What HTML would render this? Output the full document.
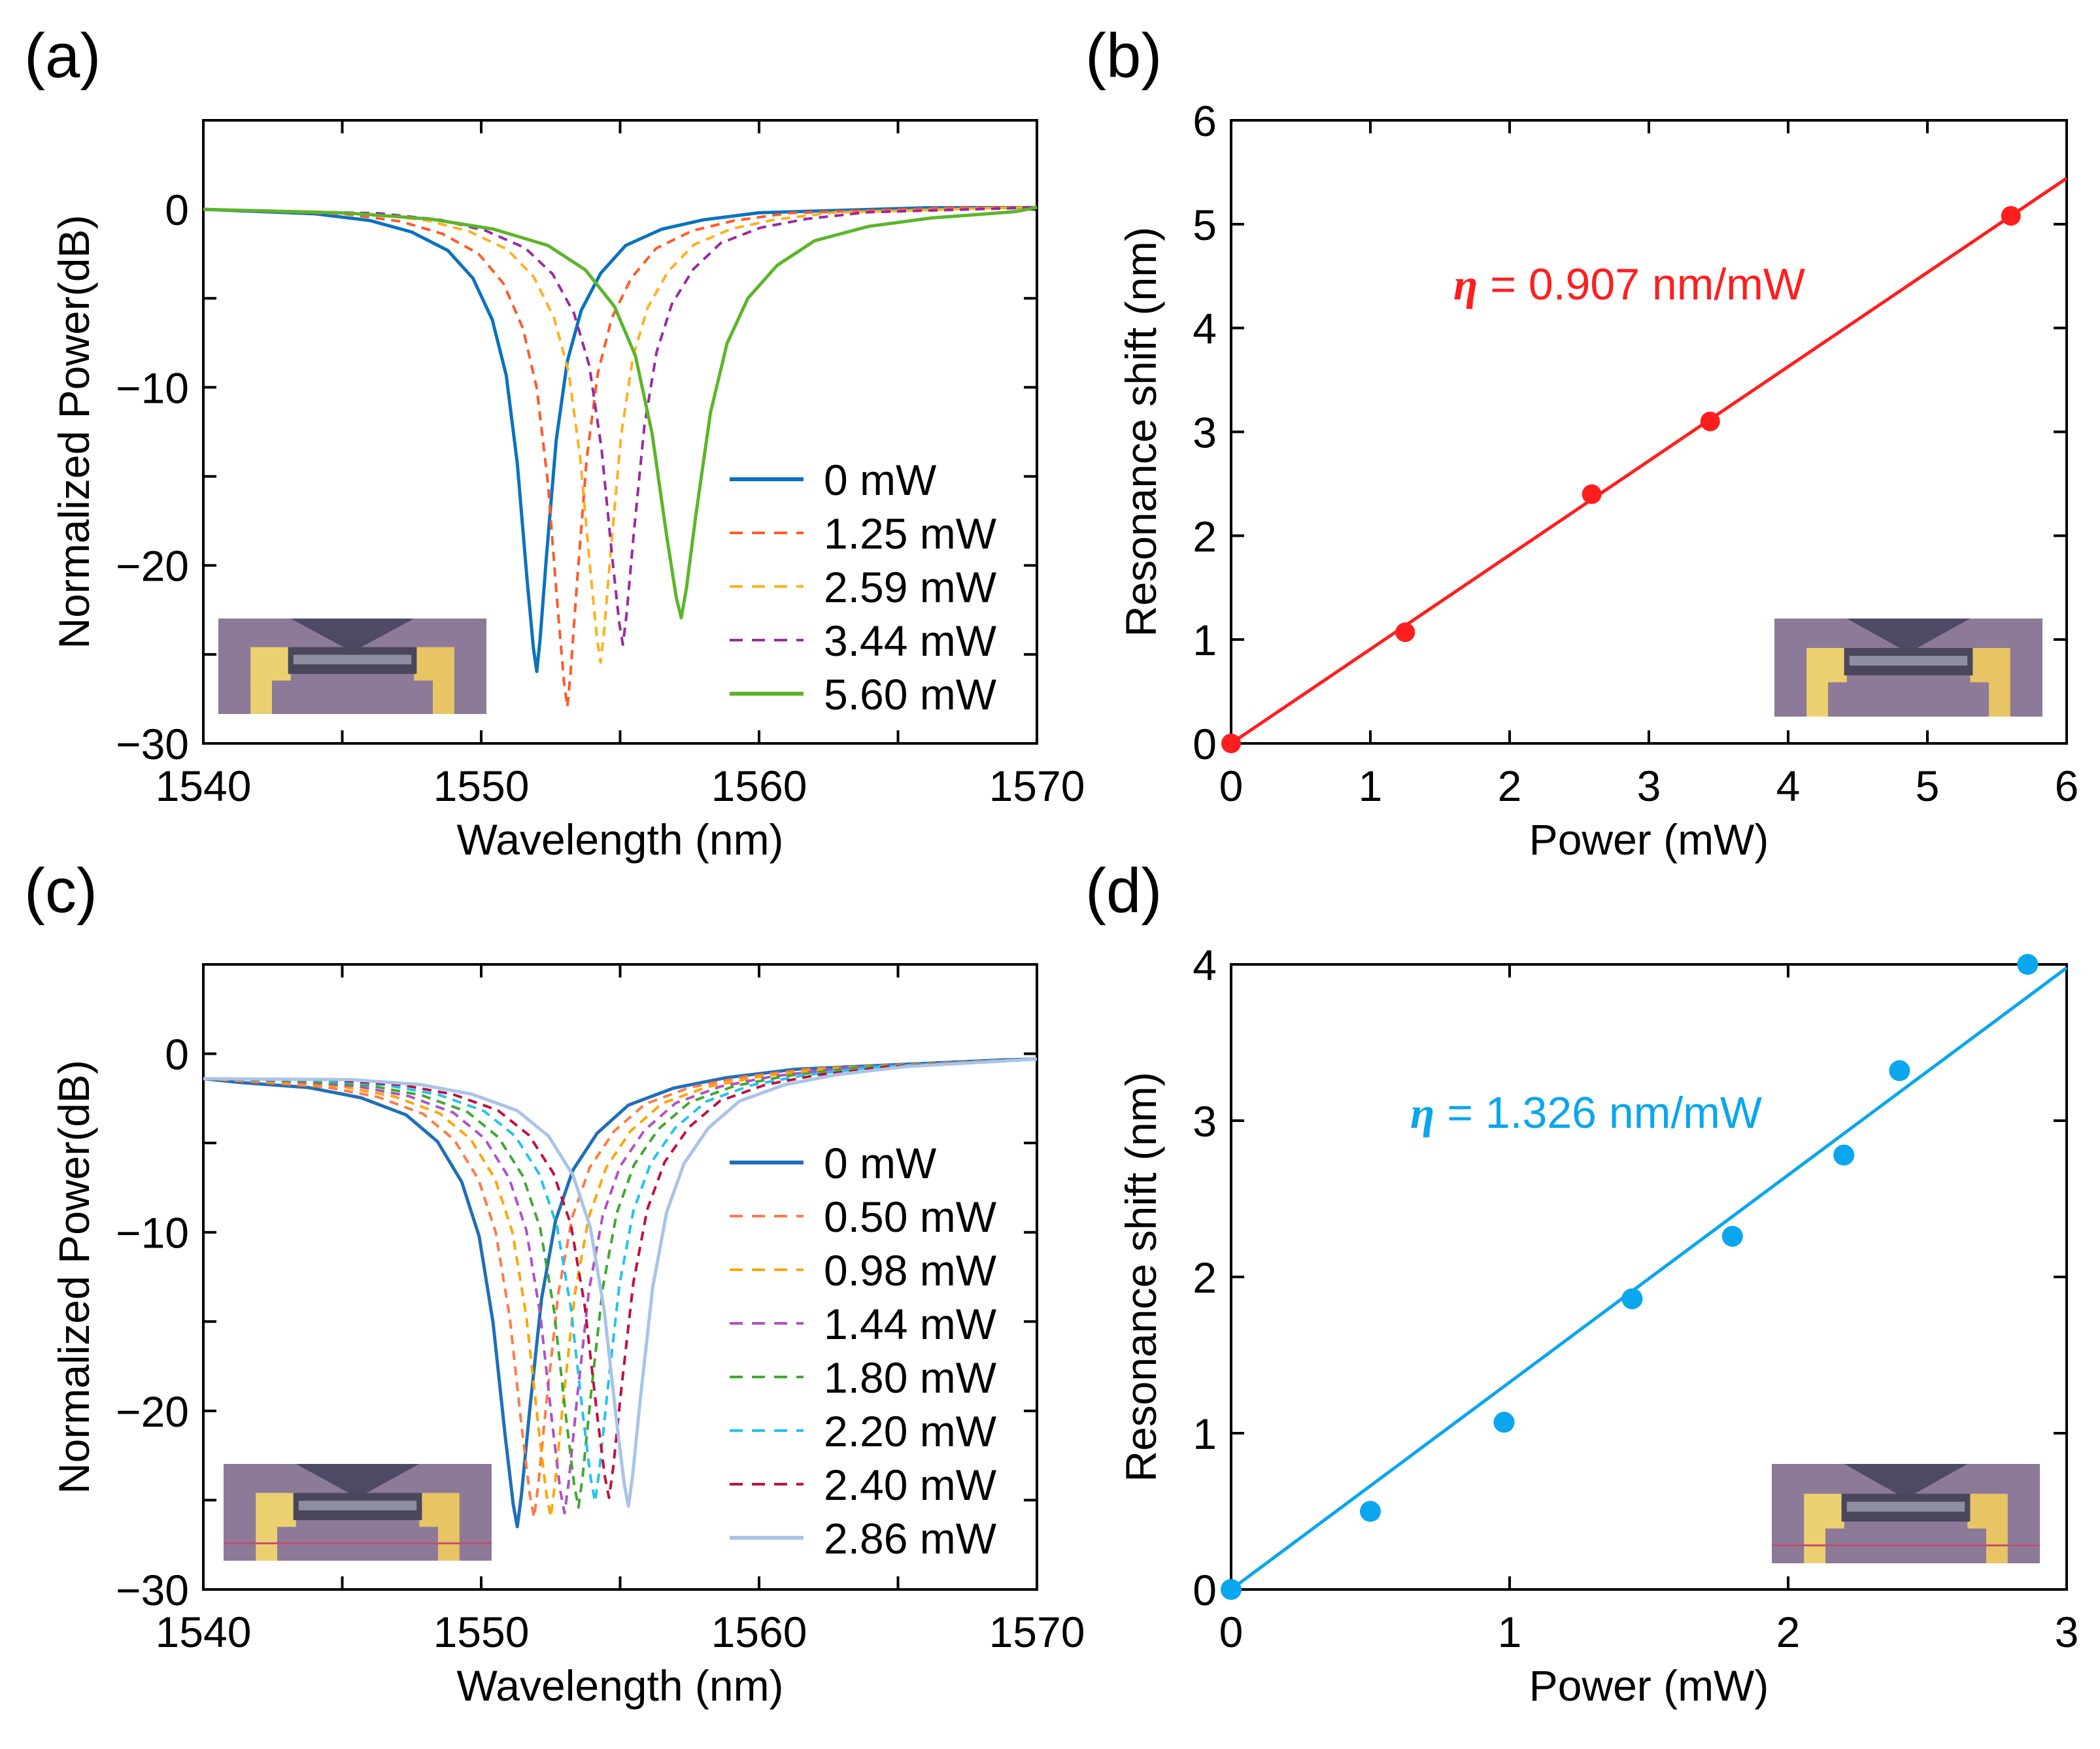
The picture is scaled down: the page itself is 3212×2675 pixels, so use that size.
<!DOCTYPE html>
<html><head><meta charset="utf-8"><style>
body{margin:0;background:#fff}
svg{display:block}
text{font-family:"Liberation Sans",sans-serif;fill:#000}
</style></head><body>
<svg id="s" width="3212" height="2675" viewBox="0 0 3212 2675" xmlns="http://www.w3.org/2000/svg"></svg>
<script>
// ---- data ----
const aLabels=["0 mW","1.25 mW","2.59 mW","3.44 mW","5.60 mW"];
const aCenters=[1552.0,1553.1,1554.3,1555.1,1557.2];
const aDepths=[26,28,25.5,24.5,23];
const aWidths=[1,1,1.05,1.1,1.5];
const aColors=["#0a72c0","#ff5a28","#ffb020","#9a2aa0","#5cb52a"];
const aDash=[false,true,true,true,false];
const cLabels=["0 mW","0.50 mW","0.98 mW","1.44 mW","1.80 mW","2.20 mW","2.40 mW","2.86 mW"];
const cCenters=[1551.3,1551.9,1552.5,1553.0,1553.5,1554.1,1554.6,1555.3];
const cDepths=[25.5,25,25,24.8,24.5,24.2,24,24.5];
const cColors=["#1f6fb8","#ff7a48","#ffa500","#b050c8","#40a830","#20c4ef","#c01040","#a8c4e8"];
const cDash=[false,true,true,true,true,true,true,false];
const profOff=[-14,-8,-6,-4.5,-3.2,-2.3,-1.6,-1.1,-0.7,-0.35,-0.12,0,0.12,0.35,0.7,1.1,1.6,2.3,3.2,4.5,6,8,14];
const profFrac=[0,0.01,0.025,0.05,0.09,0.15,0.24,0.36,0.55,0.8,0.95,1,0.93,0.75,0.5,0.33,0.22,0.14,0.08,0.045,0.025,0.01,0];
const bPower=[0,1.25,2.59,3.44,5.60];
const bShift=[0,1.07,2.40,3.10,5.08];
const bSlope=0.907;
const dPower=[0,0.50,0.98,1.44,1.80,2.20,2.40,2.86];
const dShift=[0,0.50,1.07,1.86,2.26,2.78,3.32,4.00];
const dSlope=1.326;
// ---- helpers ----
const NS="http://www.w3.org/2000/svg";const svg=document.getElementById('s');
function el(t,a,p){const e=document.createElementNS(NS,t);for(const k in a)e.setAttribute(k,a[k]);(p||svg).appendChild(e);return e;}
function txt(x,y,s,size,anchor,p,fill,extra){const e=el('text',Object.assign({x:x,y:y,'font-size':size,'text-anchor':anchor||'start'},extra||{}),p);if(fill)e.style.fill=fill;e.textContent=s;return e;}
function axes(L,R,T,B,x0,x1,y0,y1){return {L,R,T,B,sx:v=>L+(v-x0)/(x1-x0)*(R-L),sy:v=>B-(v-y0)/(y1-y0)*(B-T)};}
function frame(ax,xt,xl,yt,yl,xtitle,ytitle,name){
 const g=el('g',{});
 el('rect',{x:ax.L,y:ax.T,width:ax.R-ax.L,height:ax.B-ax.T,fill:'none',stroke:'#000','stroke-width':4},g);
 xt.forEach(v=>{const x=ax.sx(v);el('line',{x1:x,x2:x,y1:ax.B,y2:ax.B-20,stroke:'#000','stroke-width':4},g);el('line',{x1:x,x2:x,y1:ax.T,y2:ax.T+20,stroke:'#000','stroke-width':4},g);});
 yt.forEach(v=>{const y=ax.sy(v);el('line',{x1:ax.L,x2:ax.L+20,y1:y,y2:y,stroke:'#000','stroke-width':4},g);el('line',{x1:ax.R,x2:ax.R-20,y1:y,y2:y,stroke:'#000','stroke-width':4},g);});
 xl.forEach(v=>{const t=txt(ax.sx(v),ax.B+88,String(v),66,'middle',g);});
 yl.forEach(v=>{const t=txt(ax.L-22,ax.sy(v)+24,String(v).replace('-','\u2212'),66,'end',g);});
 const xt1=txt((ax.L+ax.R)/2,ax.B+170,xtitle,66,'middle',g);
 const cx=ax.L-(yl.some(v=>v<0)?175:115),cy=(ax.T+ax.B)/2;
 const yt1=txt(cx,cy,ytitle,66,'middle',g,null,{transform:`rotate(-90 ${cx} ${cy})`});
}
function inset(x,y,w,h,name,redline){
 const g=el('g',{});
 el('rect',{x:x,y:y,width:w,height:h,fill:'#8c7a98'},g);
 el('polygon',{points:`${x+w*0.27},${y} ${x+w*0.73},${y} ${x+w*0.5},${y+h*0.35}`,fill:'#4e4a66'},g);
 el('path',{d:`M${x+w*0.12},${y+h} V${y+h*0.3} H${x+w*0.27} V${y+h*0.65} H${x+w*0.2} V${y+h} Z`,fill:'#ecd070'},g);
 el('path',{d:`M${x+w*0.88},${y+h} V${y+h*0.3} H${x+w*0.73} V${y+h*0.65} H${x+w*0.8} V${y+h} Z`,fill:'#e8c464'},g);
 el('rect',{x:x+w*0.26,y:y+h*0.3,width:w*0.48,height:h*0.28,fill:'#4a465c'},g);
 el('rect',{x:x+w*0.28,y:y+h*0.38,width:w*0.44,height:h*0.1,fill:'#8e8ea0'},g);
 if(redline)el('line',{x1:x,x2:x+w,y1:y+h*0.82,y2:y+h*0.82,stroke:'#c05070','stroke-width':3},g);
}
function spectrum(ax,c,d,wf,base0,base1,color,dash,name){
 let pts=[];
 for(let i=0;i<profOff.length;i++){const w=c+profOff[i]*wf;if(w<1540||w>1570)continue;const b=base0+(base1-base0)*(w-1540)/30;pts.push([w,b-d*profFrac[i]]);}
 const bs=v=>base0+(base1-base0)*(v-1540)/30;
 if(pts[0][0]>1540)pts.unshift([1540,bs(1540)]);
 if(pts[pts.length-1][0]<1570)pts.push([1570,bs(1570)]);
 const p=el('polyline',{points:pts.map(q=>ax.sx(q[0]).toFixed(1)+','+ax.sy(q[1]).toFixed(1)).join(' '),fill:'none',stroke:color,'stroke-width':dash?4:5,'stroke-linejoin':'round'});
 if(dash)p.setAttribute('stroke-dasharray','14 10');
 
}
function legend(x,y0,dy,labels,colors,dash,name){
 const g=el('g',{});
 labels.forEach((s,i)=>{const y=y0+i*dy;
  const l=el('line',{x1:x,x2:x+113,y1:y,y2:y,stroke:colors[i],'stroke-width':dash[i]?4:6},g);if(dash[i])l.setAttribute('stroke-dasharray','20 14');
  const t=txt(x+144,y+24,s,66,'start',g);});
}
function plabel(x,y,s){const t=txt(x,y,s,96,'start');}
// ---- panel a ----
const A=axes(311,1586,184,1137,1540,1570,-30,5);
frame(A,[1540,1545,1550,1555,1560,1565,1570],[1540,1550,1560,1570],[-30,-25,-20,-15,-10,-5,0,5],[-30,-20,-10,0],'Wavelength (nm)','Normalized Power(dB)','panel-a');
inset(334,946,410,146,'inset-image-a',false);
aCenters.forEach((c,i)=>spectrum(A,c,aDepths[i],aWidths[i],0,0.1,aColors[i],aDash[i],'spectrum-a-'+i));
legend(1116,733,82,aLabels,aColors,aDash,'legend-a');
plabel(37,118,'(a)');
// ---- panel b ----
const Bx=axes(1883,3161,184,1137,0,6,0,6);
frame(Bx,[0,1,2,3,4,5,6],[0,1,2,3,4,5,6],[0,1,2,3,4,5,6],[0,1,2,3,4,5,6],'Power (mW)','Resonance shift (nm)','panel-b');
inset(2714,946,410,150,'inset-image-b',false);
{const l=el('line',{x1:Bx.sx(0),y1:Bx.sy(0),x2:Bx.sx(6),y2:Bx.sy(6*bSlope),stroke:'#ff1e1e','stroke-width':5});}
bPower.forEach((p,i)=>{const c=el('circle',{cx:Bx.sx(p),cy:Bx.sy(bShift[i]),r:15,fill:'#ff1e1e'});});
{const t=txt(2223,458,'',68,'start',null,'#ff1e1e');t.innerHTML='<tspan font-style="italic" font-weight="bold" font-family="Liberation Serif" style="fill:#ff1e1e">η</tspan> = '+bSlope.toFixed(3)+' nm/mW';}
plabel(1660,118,'(b)');
// ---- panel c ----
const C=axes(311,1586,1475,2431,1540,1570,-30,5);
frame(C,[1540,1545,1550,1555,1560,1565,1570],[1540,1550,1560,1570],[-30,-25,-20,-15,-10,-5,0,5],[-30,-20,-10,0],'Wavelength (nm)','Normalized Power(dB)','panel-c');
inset(342,2239,410,148,'inset-image-c',true);
cCenters.forEach((c,i)=>spectrum(C,c,cDepths[i],1.25,-1.4,-0.3,cColors[i],cDash[i],'spectrum-c-'+i));
legend(1116,1778,82,cLabels,cColors,cDash,'legend-c');
plabel(37,1395,'(c)');
// ---- panel d ----
const D=axes(1883,3161,1475,2431,0,3,0,4);
frame(D,[0,1,2,3],[0,1,2,3],[0,1,2,3,4],[0,1,2,3,4],'Power (mW)','Resonance shift (nm)','panel-d');
inset(2710,2239,410,152,'inset-image-d',true);
{const l=el('line',{x1:D.sx(0),y1:D.sy(0),x2:D.sx(3),y2:D.sy(3*dSlope),stroke:'#0aa6ee','stroke-width':5});}
dPower.forEach((p,i)=>{const c=el('circle',{cx:D.sx(p),cy:D.sy(dShift[i]),r:16,fill:'#0aa6ee'});});
{const t=txt(2157,1725,'',68,'start',null,'#0aa6ee');t.innerHTML='<tspan font-style="italic" font-weight="bold" font-family="Liberation Serif" style="fill:#0aa6ee">η</tspan> = '+dSlope.toFixed(3)+' nm/mW';}
plabel(1660,1395,'(d)');
</script>
</body></html>
